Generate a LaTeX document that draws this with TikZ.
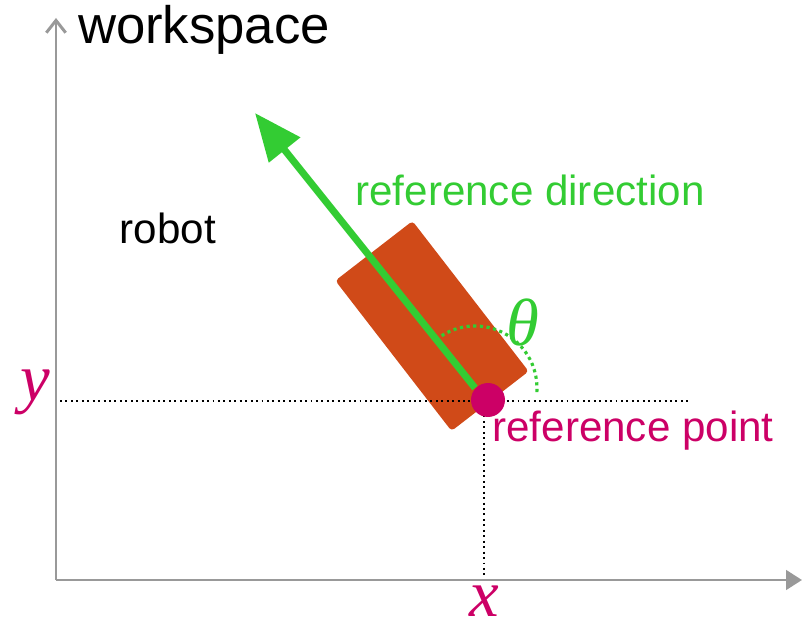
\documentclass[tikz,border=0pt]{standalone}
\usepackage{fontspec}
\setmainfont{Liberation Sans}
\newfontfamily\serifit[ItalicFont={Liberation Serif Italic}]{Liberation Serif}
\definecolor{axisgray}{RGB}{153,153,153}
\definecolor{robotorange}{RGB}{208,74,24}
\definecolor{refgreen}{RGB}{51,204,51}
\definecolor{refmagenta}{RGB}{204,0,102}
\usetikzlibrary{arrows.meta,positioning,calc}

\begin{document}
\begin{tikzpicture}[
    x=0.02cm, y=-0.02cm,
    axisline/.style={line width=1.7pt, axisgray},
    guide/.style={dotted, line width=1.1pt, black},
    label/.style={font=\fontsize{24}{28}\selectfont, inner sep=0pt},
    mathlabel/.style={font=\fontsize{38}{40}\selectfont\serifit\itshape, inner sep=0pt},
    robotbox/.style={rectangle, rounded corners=2pt, fill=robotorange,
                     minimum width=3.8cm, minimum height=1.95cm, inner sep=0pt}
  ]
    \useasboundingbox (0,0) rectangle (802,628);

    % axes
    \coordinate (origin) at (56,580);
    \coordinate (ytip) at (56,18);
    \coordinate (xtip) at (802,580);
    \draw[axisline, -{Straight Barb[length=7pt, width=11pt]}] (origin) -- (ytip);
    \draw[axisline, -{Triangle[length=9pt, width=11pt]}] (origin) -- (xtip);
    \node[label, font=\fontsize{30}{32}\selectfont] (ws) at (204,30) {workspace};

    % robot body
    \node[robotbox, rotate=-52.3] (robot) at (432,326) {};
    \node[label] (rlabel) at (168,228) {robot};

    % dotted guides to the axes
    \coordinate (ystart) at (60,401);
    \coordinate (yend) at (690,401);
    \coordinate (xstart) at (484,410);
    \coordinate (xend) at (484,577);
    \draw[guide] (ystart) -- (yend);
    \draw[guide] (xstart) -- (xend);

    % reference direction
    \coordinate (base) at (475,388);
    \coordinate (head) at (255,113);
    \draw[refgreen, line width=4pt, -{Triangle[length=27pt, width=22pt]}] (base) -- (head);
    \draw[refgreen, dotted, line width=1.8pt] ($(base)+(-128.7:62)$)
      arc[start angle=-128.7, end angle=5, radius=62];
    \node[label, text=refgreen] (dirlabel) at (530,190) {reference direction};
    \node[mathlabel, text=refgreen] (theta) at (523,322) {θ};

    % reference point
    \node[circle, fill=refmagenta, minimum size=0.68cm, inner sep=0pt] (pt) at (488,400) {};
    \node[label, text=refmagenta] (ptlabel) at (633,431) {reference point};
    \node[mathlabel, text=refmagenta] (xlabel) at (484,601) {x};
    \node[mathlabel, text=refmagenta] (ylabel) at (35,392) {y};
\end{tikzpicture}
\end{document}
